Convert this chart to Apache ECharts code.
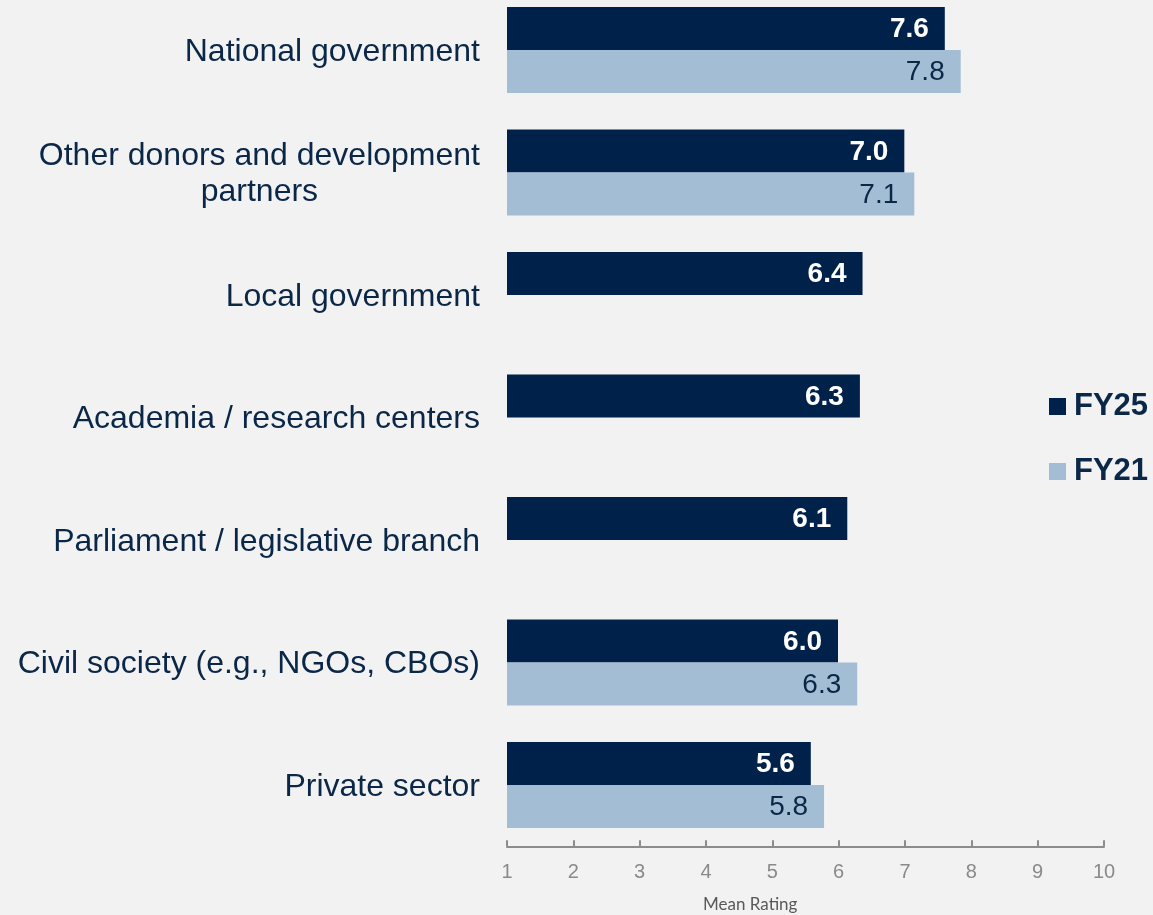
<!DOCTYPE html>
<html>
<head>
<meta charset="utf-8">
<script src="https://cdn.jsdelivr.net/npm/echarts@6/dist/echarts.min.js"></script>
<style>
  html, body { margin: 0; padding: 0; background: #f2f2f2; }
  #chart { width: 1153px; height: 915px; }
</style>
</head>
<body>
<div id="chart"></div>
<script>
const categories = [
  'National government',
  'Other donors and development\npartners',
  'Local government',
  'Academia / research centers',
  'Parliament / legislative branch',
  'Civil society (e.g., NGOs, CBOs)',
  'Private sector'
];
// mean ratings
const fy25 = [7.6, 6.99, 6.36, 6.32, 6.13, 5.99, 5.58];
const fy21 = [7.84, 7.14, null, null, null, 6.28, 5.78];
const xTicks = [1, 2, 3, 4, 5, 6, 7, 8, 9, 10];

const navy = '#00214a';
const lightBlue = '#a3bdd5';
const textNavy = '#0b2748';

var chart = echarts.init(document.getElementById('chart'));

const option = {
  backgroundColor: '#f2f2f2',
  animation: false,
  title: {
    text: 'Mean Rating',
    left: 703,
    top: 896,
    padding: 0,
    textStyle: { fontFamily: 'Lato', fontSize: 17, fontWeight: 'normal', color: '#595959' }
  },
  legend: {
    orient: 'vertical',
    left: 1044,
    top: 386,
    icon: 'rect',
    itemWidth: 17,
    itemHeight: 17,
    itemGap: 34,
    textStyle: {
      fontFamily: 'Liberation Sans',
      fontSize: 31,
      fontWeight: 'bold',
      color: textNavy,
      padding: [0, 0, 0, 3]
    },
    data: ['FY25', 'FY21']
  },
  grid: {
    left: 507,
    right: 49,
    top: -11.25,
    bottom: 68.75,
    containLabel: false,
    outerBoundsMode: 'none'
  },
  xAxis: {
    type: 'value',
    min: xTicks[0],
    max: xTicks[xTicks.length - 1],
    interval: 1,
    axisLine: { show: true, lineStyle: { color: '#8c8c8c', width: 2 } },
    axisTick: { show: true, inside: true, length: 6, lineStyle: { color: '#8c8c8c', width: 2 } },
    axisLabel: {
      margin: 16,
      fontFamily: 'Liberation Sans Narrow, Liberation Sans',
      fontSize: 20,
      color: '#8a8a8a'
    },
    splitLine: { show: false }
  },
  yAxis: {
    type: 'category',
    inverse: true,
    data: categories,
    axisLine: { show: false },
    axisTick: { show: false },
    axisLabel: {
      margin: 27,
      padding: [4, 0, 0, 0],
      formatter: function (v) {
        return v.split('\n').map(function (s) { return '{c|' + s + '}'; }).join('\n');
      },
      rich: {
        c: {
          align: 'center',
          fontFamily: 'Liberation Sans',
          fontSize: 32,
          lineHeight: 36,
          color: textNavy
        }
      }
    }
  },
  series: [
    {
      name: 'FY25',
      type: 'bar',
      data: fy25,
      barWidth: 43,
      barGap: '0%',
      itemStyle: { color: navy },
      label: {
        show: true,
        position: 'insideRight',
        distance: 16,
        offset: [0, 1],
        formatter: function (p) { return p.value.toFixed(1); },
        fontFamily: 'Liberation Sans',
        fontSize: 28,
        fontWeight: 'bold',
        color: '#ffffff'
      }
    },
    {
      name: 'FY21',
      type: 'bar',
      data: fy21,
      barWidth: 43,
      barGap: '0%',
      itemStyle: { color: lightBlue },
      label: {
        show: true,
        position: 'insideRight',
        distance: 16,
        offset: [0, 1],
        formatter: function (p) { return p.value == null ? '' : p.value.toFixed(1); },
        fontFamily: 'Liberation Sans',
        fontSize: 28,
        color: textNavy
      }
    }
  ]
};

chart.setOption(option);
</script>
</body>
</html>
